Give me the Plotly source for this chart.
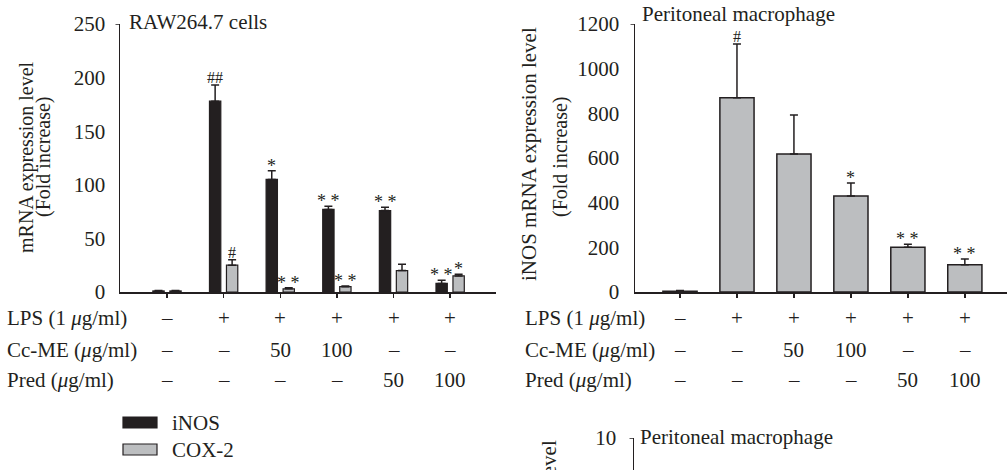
import plotly.graph_objects as go

# ---------------- data ----------------
groups = [0, 1, 2, 3, 4, 5]
lps_row = ["–", "+", "+", "+", "+", "+"]
ccme_row = ["–", "–", "50", "100", "–", "–"]
pred_row = ["–", "–", "–", "–", "50", "100"]
row_labels = ["LPS (1 <i>μ</i>g/ml)", "Cc-ME (<i>μ</i>g/ml)", "Pred (<i>μ</i>g/ml)"]

raw_inos = [1, 178, 105, 77, 76, 8]
raw_inos_err = [0.5, 15, 8, 3, 3, 3]
raw_cox = [1, 25, 3, 5, 20, 15]
raw_cox_err = [0.5, 5, 1, 0.7, 6, 1.5]
raw_inos_sig = ["", "##", "*", "* *", "* *", "* *"]
raw_cox_sig = ["", "#", "* *", "* *", "", "*"]

pm_inos = [3, 870, 618, 430, 200, 122]
pm_inos_err = [4, 240, 175, 58, 14, 26]
pm_sig = ["", "#", "", "*", "* *", "* *"]

left_yrange = [0, 250]
left_yticks = [0, 50, 100, 150, 200, 250]
right_yrange = [0, 1200]
right_yticks = [0, 200, 400, 600, 800, 1000, 1200]
bottom_yrange = [8.6, 10]
bottom_yticks = [10]

# ---------------- style ----------------
W, H = 1007, 470
FONT = "Liberation Serif, Times New Roman, DejaVu Serif, serif"
INK = "#231f20"
GREY = "#bcbec0"
TICKFS = 21
SIGFS = 16

def px_x(p):
    return p / W

def px_y(p):
    return (H - p) / H

fig = go.Figure()

bw = 0.2
fig.add_trace(go.Bar(
    x=groups, y=raw_inos, xaxis="x", yaxis="y", name="iNOS",
    width=bw, offset=-0.25,
    marker=dict(color=INK, line=dict(color=INK, width=1.2)),
    error_y=dict(type="data", array=raw_inos_err, arrayminus=[0] * 6, symmetric=False,
                 color=INK, thickness=1.5, width=4),
    showlegend=False))
fig.add_trace(go.Bar(
    x=groups, y=raw_cox, xaxis="x", yaxis="y", name="COX-2",
    width=bw, offset=0.05,
    marker=dict(color=GREY, line=dict(color=INK, width=1.2)),
    error_y=dict(type="data", array=raw_cox_err, arrayminus=[0] * 6, symmetric=False,
                 color=INK, thickness=1.5, width=4),
    showlegend=False))
fig.add_trace(go.Bar(
    x=groups, y=pm_inos, xaxis="x2", yaxis="y2", name="iNOS PM",
    width=0.6,
    marker=dict(color=GREY, line=dict(color=INK, width=1.5)),
    error_y=dict(type="data", array=pm_inos_err, arrayminus=[0] * 6, symmetric=False,
                 color=INK, thickness=1.5, width=4),
    showlegend=False))

axis_common = dict(showgrid=False, zeroline=False, showline=True, linecolor=INK, linewidth=1.5,
                   automargin=False, tickfont=dict(family=FONT, size=TICKFS, color=INK))

left_dom_x = [px_x(120), px_x(496)]
right_dom_x = [px_x(635), 1.0]
top_dom_y = [px_y(292), px_y(24)]

fig.update_layout(
    template="none",
    width=W, height=H, margin=dict(l=0, r=0, t=0, b=0, pad=0, autoexpand=False),
    paper_bgcolor="white", plot_bgcolor="white",
    barmode="overlay", showlegend=False,
    font=dict(family=FONT, color=INK),
    xaxis=dict(axis_common, domain=left_dom_x, anchor="y", range=[-0.83, 5.81],
               tickvals=groups, showticklabels=False, ticks="outside", ticklen=4,
               tickwidth=1.5, tickcolor=INK),
    yaxis=dict(axis_common, domain=top_dom_y, anchor="x", range=left_yrange,
               tickvals=left_yticks, ticks="", ticklabelstandoff=9),
    xaxis2=dict(axis_common, domain=right_dom_x, anchor="y2", range=[-0.79, 5.74],
                tickvals=groups, showticklabels=False, ticks="outside", ticklen=4,
                tickwidth=1.5, tickcolor=INK),
    yaxis2=dict(axis_common, domain=top_dom_y, anchor="x2", range=right_yrange,
                tickvals=right_yticks, ticks="", ticklabelstandoff=10),
    xaxis3=dict(domain=[px_x(634), 1.0], anchor="y3", range=[-0.79, 5.74], visible=False,
                automargin=False),
    yaxis3=dict(axis_common, domain=[0, px_y(438)], anchor="x3", range=bottom_yrange,
                tickvals=bottom_yticks, ticks="", ticklabelstandoff=12),
)

# top ticks on y axes
for xr, yr, yv in [("x domain", "y", left_yrange[1]), ("x2 domain", "y2", right_yrange[1]),
                   ("x3 domain", "y3", bottom_yrange[1])]:
    fig.add_shape(type="line", xref=xr, yref=yr, x0=-0.012, x1=0, y0=yv, y1=yv,
                  line=dict(color=INK, width=1.5))

ann = []

def sig_ann(x, y, xr, yr, txt):
    star = "*" in txt
    return dict(x=x, y=y, xref=xr, yref=yr, text=txt, showarrow=False, yanchor="bottom",
                yshift=-7 if star else -3,
                font=dict(family=FONT, size=SIGFS + (2 if star else 0), color=INK))

# significance marks
for i in groups:
    if raw_inos_sig[i]:
        ann.append(sig_ann(i - 0.15, raw_inos[i] + raw_inos_err[i], "x", "y", raw_inos_sig[i]))
    if raw_cox_sig[i]:
        ann.append(sig_ann(i + 0.15, raw_cox[i] + raw_cox_err[i], "x", "y", raw_cox_sig[i]))
    if pm_sig[i]:
        ann.append(sig_ann(i, pm_inos[i] + pm_inos_err[i], "x2", "y2", pm_sig[i]))

# row tables
row_y = [px_y(318), px_y(350), px_y(380)]
rows = [lps_row, ccme_row, pred_row]
for (xr, lx) in [("x", px_x(5)), ("x2", px_x(523))]:
    for ry, lab, vals in zip(row_y, row_labels, rows):
        ann.append(dict(x=lx, y=ry, xref="paper", yref="paper", text=lab, showarrow=False,
                        xanchor="left", yanchor="middle",
                        font=dict(family=FONT, size=TICKFS, color=INK)))
        for g, v in zip(groups, vals):
            ann.append(dict(x=g, y=ry, xref=xr, yref="paper", text=v, showarrow=False,
                            xanchor="center", yanchor="middle",
                            font=dict(family=FONT, size=TICKFS, color=INK)))

# panel titles
ann.append(dict(x=px_x(127), y=px_y(22), xref="paper", yref="paper", text="RAW264.7 cells",
                showarrow=False, xanchor="left", yanchor="middle",
                font=dict(family=FONT, size=TICKFS, color=INK)))
ann.append(dict(x=px_x(640), y=px_y(14), xref="paper", yref="paper", text="Peritoneal macrophage",
                showarrow=False, xanchor="left", yanchor="middle",
                font=dict(family=FONT, size=TICKFS, color=INK)))
ann.append(dict(x=px_x(638), y=px_y(437), xref="paper", yref="paper", text="Peritoneal macrophage",
                showarrow=False, xanchor="left", yanchor="middle",
                font=dict(family=FONT, size=TICKFS, color=INK)))

# y axis titles
ytitle_fs = 20
ann.append(dict(x=px_x(26), y=px_y(157), xref="paper", yref="paper", text="mRNA expression level",
                textangle=-90, showarrow=False, xanchor="center", yanchor="middle",
                font=dict(family=FONT, size=ytitle_fs, color=INK)))
ann.append(dict(x=px_x(43), y=px_y(157), xref="paper", yref="paper", text="(Fold increase)",
                textangle=-90, showarrow=False, xanchor="center", yanchor="middle",
                font=dict(family=FONT, size=ytitle_fs, color=INK)))
ann.append(dict(x=px_x(529), y=px_y(154), xref="paper", yref="paper", text="iNOS mRNA expression level",
                textangle=-90, showarrow=False, xanchor="center", yanchor="middle",
                font=dict(family=FONT, size=ytitle_fs + 1, color=INK)))
ann.append(dict(x=px_x(560), y=px_y(157), xref="paper", yref="paper", text="(Fold increase)",
                textangle=-90, showarrow=False, xanchor="center", yanchor="middle",
                font=dict(family=FONT, size=ytitle_fs, color=INK)))
ann.append(dict(x=px_x(549), y=px_y(438), xref="paper", yref="paper", text="iNOS mRNA expression level",
                textangle=-90, showarrow=False, xanchor="center", yanchor="top",
                font=dict(family=FONT, size=ytitle_fs + 1, color=INK)))

# legend
leg = [("iNOS", INK, 417, 428), ("COX-2", GREY, 444, 455)]
for name, col, y0, y1 in leg:
    fig.add_shape(type="rect", xref="paper", yref="paper", x0=px_x(123), x1=px_x(157),
                  y0=px_y(y1), y1=px_y(y0), fillcolor=col, line=dict(color=INK, width=1.2))
    ann.append(dict(x=px_x(170), y=px_y((y0 + y1) / 2), xref="paper", yref="paper", text=name,
                    showarrow=False, xanchor="left", yanchor="middle",
                    font=dict(family=FONT, size=TICKFS, color=INK)))

fig.update_layout(annotations=ann)
fig.write_html(
    "out.html",
    config={"displayModeBar": False, "staticPlot": True},
    post_script=("document.body.style.margin='0';document.body.style.overflow='hidden';"
                 "var d=document.getElementById('{plot_id}');"
                 "d.style.position='fixed';d.style.top='0px';d.style.left='0px';"),
)
